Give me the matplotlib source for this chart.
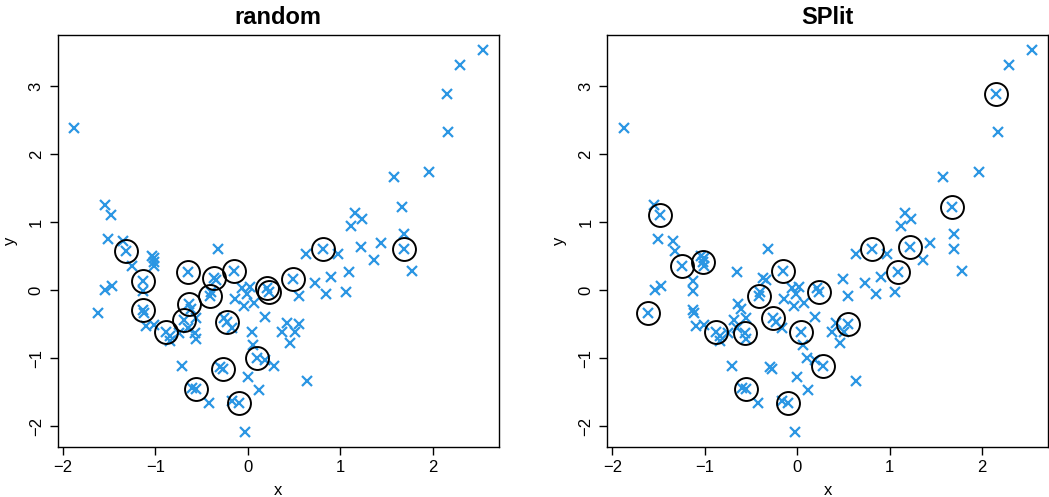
import matplotlib as mpl
mpl.use("Agg")
import matplotlib.pyplot as plt
import numpy as np

mpl.rcParams.update({
    "font.family": ["Liberation Sans", "DejaVu Sans"],
    "axes.linewidth": 1.0,
    "xtick.major.size": 6,
    "ytick.major.size": 6,
    "xtick.major.width": 1.0,
    "ytick.major.width": 1.0,
    "xtick.labelsize": 12,
    "ytick.labelsize": 12,
})

# point cloud
x = np.array([
    -1.88, -1.55, -1.48, -1.51, -1.35, -1.32, -1.25, -1.04, -1.01, -1.02,
    -1.01, -1.13, -1.54, -1.47, -1.62, -1.13, -1.13, -1.12, -1.10, -1.01,
    -0.88, -0.84, -0.84, -0.75, -0.65, -0.64, -0.69, -0.56, -0.57, -0.56,
    -0.65, -0.61, -0.32, -0.37, -0.34, -0.41, -0.40, -0.15, -0.06, 0.02,
    -0.01, -0.14, -0.04, 0.07, 0.21, 0.23, -0.23, -0.26, -0.17, 0.19,
    0.04, 0.06, 0.10, 0.19, 0.28, -0.71, -0.27, -0.30, 0.00, 0.12,
    -0.56, -0.60, -0.42, -0.10, -0.17, -0.03, 0.42, 0.55, 0.37, 0.51,
    0.46, 0.64, 0.49, 0.63, 0.81, 0.97, 1.22, 1.44, 1.36, 1.69,
    1.78, 0.73, 0.90, 1.09, 0.55, 0.85, 1.06, 1.12, 1.16, 1.23,
    1.67, 1.69, 1.58, 1.96, 2.17, 2.15, 2.29, 2.54,
])
y = np.array([
    2.39, 1.25, 1.10, 0.76, 0.72, 0.58, 0.35, 0.50, 0.47, 0.42,
    0.36, 0.13, 0.00, 0.07, -0.34, -0.01, -0.29, -0.34, -0.53, -0.51,
    -0.62, -0.67, -0.75, -0.63, 0.27, -0.20, -0.44, -0.41, -0.63, -0.71,
    -0.56, -0.27, 0.60, 0.18, 0.15, -0.08, -0.02, 0.29, 0.03, 0.05,
    -0.06, -0.13, -0.23, -0.18, 0.03, -0.02, -0.46, -0.41, -0.56, -0.40,
    -0.61, -0.80, -0.99, -1.02, -1.11, -1.11, -1.16, -1.13, -1.28, -1.47,
    -1.45, -1.43, -1.66, -1.65, -1.63, -2.08, -0.48, -0.49, -0.62, -0.62,
    -0.78, -1.33, 0.17, 0.54, 0.60, 0.53, 0.63, 0.70, 0.44, 0.60,
    0.29, 0.11, 0.20, 0.27, -0.08, -0.06, -0.02, 0.94, 1.13, 1.05,
    1.22, 0.83, 1.66, 1.74, 2.33, 2.88, 3.32, 3.53,
])

# indices of the circled (selected) points in each panel
random_idx = [5, 11, 16, 20, 24, 25, 26, 33, 35, 37, 44, 45, 46, 52, 56,
              60, 63, 72, 74, 79]
split_idx = [2, 6, 9, 14, 20, 28, 35, 37, 45, 47, 50, 54, 60, 63, 67,
             74, 76, 83, 90, 95]

titles = ["random", "SPlit"]
selections = [random_idx, split_idx]

fig = plt.figure(figsize=(10.49, 4.97), dpi=100)
lefts = [0.055, 0.5788]
for left, title, sel in zip(lefts, titles, selections):
    ax = fig.add_axes([left, 0.1006, 0.4207, 0.829])
    ax.plot(x, y, "x", color="#2B96E3", markersize=6.5, markeredgewidth=1.6)
    ax.plot(x[sel], y[sel], "o", mfc="none", mec="black", markersize=16.5,
            markeredgewidth=1.4)
    xr = x.max() - x.min()
    yr = y.max() - y.min()
    ax.set_xlim(x.min() - 0.04 * xr, x.max() + 0.04 * xr)
    ax.set_ylim(y.min() - 0.04 * yr, y.max() + 0.04 * yr)
    ax.set_xticks([-2, -1, 0, 1, 2])
    ax.set_yticks([-2, -1, 0, 1, 2, 3])
    ax.set_xticklabels(["\u22122", "\u22121", "0", "1", "2"])
    ax.set_yticklabels(["\u22122", "\u22121", "0", "1", "2", "3"],
                       rotation=90, va="center")
    ax.tick_params(axis="x", pad=3)
    ax.tick_params(axis="y", pad=4)
    ax.set_xlabel("x", fontsize=12, labelpad=6)
    ax.set_ylabel("y", fontsize=12, labelpad=8)
    ax.set_title(title, fontsize=17, fontweight="bold", pad=8)

fig.savefig("out.png", dpi=100)
